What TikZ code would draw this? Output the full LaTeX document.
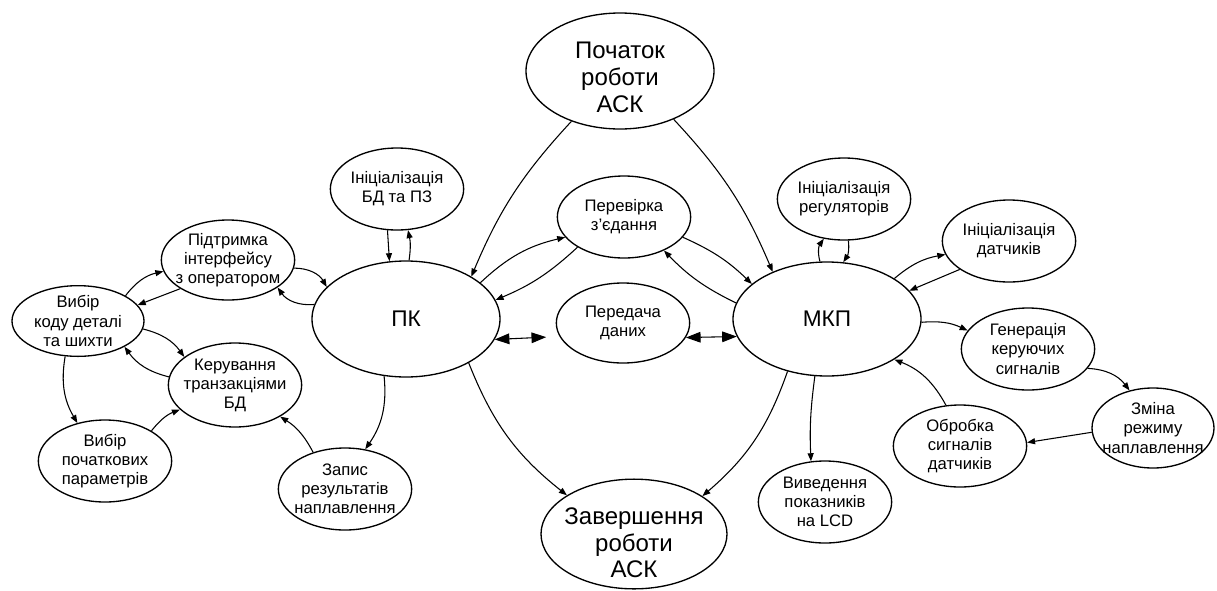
\documentclass[tikz,border=0pt]{standalone}
\usepackage{fontspec}
\setmainfont{Liberation Sans}
\usepackage{tikz}
\usetikzlibrary{arrows.meta,shapes,positioning}
\tikzstyle{arrow} = [line width=0.8pt,-{Triangle[length=6pt,width=4.5pt]}]
\tikzstyle{biarrow} = [line width=0.8pt,{Triangle[length=11pt,width=8pt]}-{Triangle[length=11pt,width=8pt]}]

\begin{document}
\begin{tikzpicture}[x=0.75pt, y=-0.75pt,
    state/.style={ellipse, draw, line width=1pt, minimum width=100pt, minimum height=61.5pt, inner xsep=-12pt, inner ysep=-4pt, align=center, font=\fontsize{12.5}{14.3}\selectfont},
    bigstate/.style={state, minimum width=141pt, minimum height=87pt, font=\fontsize{18}{20}\selectfont},
    hub/.style={bigstate, font=\fontsize{17}{20}\selectfont}]
\useasboundingbox (0,0) rectangle (1217,590);

% Start and finish
\node[bigstate] (start) at (620,71) {\rule{0pt}{22pt}Початок\\роботи\\АСК};
\node[bigstate, minimum width=139.5pt, minimum height=81pt] (finish) at (634,534) {\rule{0pt}{26pt}Завершення\\роботи\\АСК};

% Main units
\node[hub] (pk) at (406,319) {ПК};
\node[hub, minimum height=85.5pt] (mkp) at (827,319) {МКП};

% Between units
\node[state] (check) at (624,217) {Перевірка\\з’єдання};
\node[state, minimum height=60pt] (transfer) at (623,323) {Передача\\даних};

% PK side
\node[state] (initdb) at (397,189) {Ініціалізація\\БД та ПЗ};
\node[state, minimum height=60pt] (iface) at (228,260) {Підтримка\\інтерфейсу\\з оператором};
\node[state, minimum width=99pt, minimum height=53pt] (code) at (78,321) {Вибір\\коду деталі\\та шихти};
\node[state, minimum height=63pt] (trans) at (235,385) {Керування\\транзакціями\\БД};
\node[state] (params) at (105,461) {Вибір\\початкових\\параметрів};
\node[state] (record) at (345,489) {Запис\\результатів\\наплавлення};

% MKP side
\node[state] (initreg) at (844,199) {Ініціалізація\\регуляторів};
\node[state] (initsens) at (1009,241) {Ініціалізація\\датчиків};
\node[state] (gen) at (1028,349) {Генерація\\керуючих\\сигналів};
\node[state, minimum width=91.5pt, minimum height=60pt] (change) at (1153,428) {Зміна\\режиму\\наплавлення};
\node[state] (proc) at (960,446) {Обробка\\сигналів\\датчиків};
\node[state] (lcd) at (825,502) {Виведення\\показників\\на LCD};

% Start / finish links
\draw[arrow] (start.226) to[bend right=10] (pk.33);
\draw[arrow] (start.318) to[bend left=10] (mkp.139);
\draw[arrow] (pk.325) to[bend right=15] (finish.150);
\draw[arrow] (mkp.233) to[bend left=15] (finish.29);

% PK links
\draw[arrow] (initdb.257) -- (pk.106);
\draw[arrow] (pk.87) to[bend right=10] (initdb.285);
\draw[arrow] (pk.26) to[bend left=15] (check.199);
\draw[arrow] (check.213) to[bend left=10] (pk.12);
\draw[arrow] (iface.353) to[bend left=30] (pk.158);
\draw[arrow] (pk.171) to[bend left=30] (iface.331);
\draw[arrow] (pk.249) to[bend left=20] (record.63);
\draw[biarrow, shorten >=10pt] (pk.347.5) -- (transfer.192.5);

% Left cluster
\draw[arrow] (code.28) to[bend left=20] (iface.190);
\draw[arrow] (iface.211) -- (code.15);
\draw[arrow] (code.353) to[bend left=20] (trans.151);
\draw[arrow] (trans.173) to[bend left=20] (code.331);
\draw[arrow] (code.250) to[bend right=20] (params.126);
\draw[arrow] (params.33) to[bend left=15] (trans.204);
\draw[arrow] (record.131) to[bend right=15] (trans.325);

% MKP links
\draw[arrow] (check.341) to[bend left=10] (mkp.155);
\draw[arrow] (mkp.170) to[bend left=10] (check.320);
\draw[biarrow] (transfer.347) -- (mkp.191);
\draw[arrow] (mkp.97) to[bend left=25] (initreg.243);
\draw[arrow] (initreg.276) to[bend left=20] (mkp.74);
\draw[arrow] (mkp.31) to[bend left=15] (initsens.192);
\draw[arrow] (initsens.210) -- (mkp.19);
\draw[arrow] (mkp.358) to[bend left=15] (gen.163);
\draw[arrow] (gen.342) to[bend left=25] (change.122);
\draw[arrow] (change.184) -- (proc.3);
\draw[arrow] (proc.109) to[bend right=20] (mkp.329);
\draw[arrow] (mkp.258) to[bend right=5] (lcd.109);
\end{tikzpicture}
\end{document}
